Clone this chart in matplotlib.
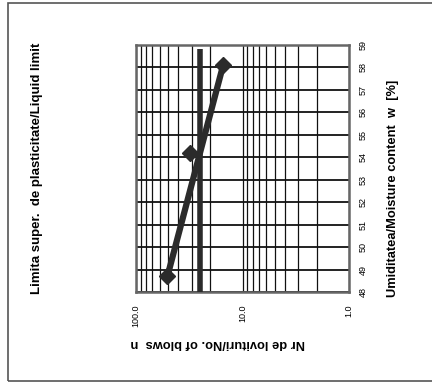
"""Liquid limit chart (scanned sheet, page turned 90 degrees).

Saves to out.png.
"""

import matplotlib
matplotlib.use("Agg")
import matplotlib.pyplot as plt
import matplotlib.ticker as mticker
from matplotlib.patches import Rectangle

plt.rcParams["font.family"] = ["Liberation Sans", "DejaVu Sans"]

# measured points: blows / moisture content
blows = [51.0, 31.0, 15.2]
moisture = [48.7, 54.2, 58.1]

# straight fit line drawn through the points
fit_blows = [51.0, 15.2]
fit_moisture = [48.65, 58.1]

# 25-blow reference line
ref_blows = [25.0, 25.0]
ref_moisture = [48.0, 58.8]

x_ticks = [100.0, 10.0, 1.0]
x_tick_labels = ["100.0", "10.0", "1.0"]
y_ticks = list(range(48, 60))

INK = "#2b2b2b"

fig = plt.figure(figsize=(4.32, 3.84), dpi=100)
fig.patch.set_facecolor("white")

# sheet border
fig.patches.append(Rectangle((8 / 432, 3 / 384), 1.2, 1 - 6 / 384,
                             transform=fig.transFigure, fill=False,
                             edgecolor="#555555", linewidth=1.2))

ax = fig.add_axes([136 / 432, 1 - 292 / 384, 213 / 432, 247 / 384])
ax.set_xscale("log")
ax.set_xlim(100, 1)
ax.set_ylim(48, 59)

ax.plot(ref_blows, ref_moisture, color=INK, linewidth=4, solid_capstyle="butt", zorder=3)
ax.plot(fit_blows, fit_moisture, color=INK, linewidth=4.5, solid_capstyle="round", zorder=4)
ax.plot(blows, moisture, linestyle="none", marker="D", markersize=8,
        color=INK, zorder=5)

# grid
ax.xaxis.set_major_locator(mticker.FixedLocator(x_ticks))
ax.xaxis.set_major_formatter(mticker.FixedFormatter(x_tick_labels))
ax.xaxis.set_minor_locator(mticker.LogLocator(base=10, subs=range(2, 10)))
ax.xaxis.set_minor_formatter(mticker.NullFormatter())
ax.yaxis.set_major_locator(mticker.FixedLocator(y_ticks))
ax.grid(True, which="both", axis="x", color="#111111", linewidth=0.9)
ax.grid(True, which="major", axis="y", color="#111111", linewidth=1.3)
ax.set_axisbelow(True)

ax.yaxis.tick_right()
ax.tick_params(axis="y", which="both", length=0, labelsize=6.5,
               labelrotation=90, pad=7)
ax.tick_params(axis="x", which="both", length=0, labelsize=6.5, pad=9)
for lbl in ax.get_xticklabels():
    lbl.set_rotation(90)
for lbl in ax.get_yticklabels():
    lbl.set_verticalalignment("center")

for sp in ax.spines.values():
    sp.set_color("#666666")
    sp.set_linewidth(1.8)

fig.text(37 / 432, 1 - 168 / 384,
         "Limita super.  de plasticitate/Liquid limit",
         rotation=90, ha="center", va="center", fontsize=9.5, fontweight="bold")
fig.text(393 / 432, 1 - 188 / 384,
         "Umiditatea/Moisture content  w  [%]",
         rotation=90, ha="center", va="center", fontsize=9.3, fontweight="bold")
fig.text(218 / 432, 1 - 343 / 384,
         "Nr de lovituri/No. of blows  n",
         rotation=180, ha="center", va="center", fontsize=9.3, fontweight="bold")

fig.savefig("out.png", dpi=100)
plt.close(fig)
